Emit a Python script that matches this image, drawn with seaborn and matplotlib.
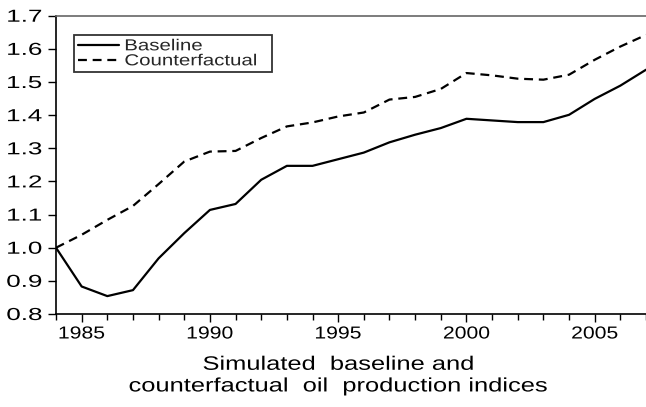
import numpy as np
import pandas as pd
import matplotlib
matplotlib.use("Agg")
import matplotlib.pyplot as plt
import seaborn as sns
from matplotlib.ticker import MultipleLocator
from matplotlib.patheffects import AbstractPathEffect
from matplotlib.transforms import Affine2D

years = list(range(1984, 2008))
baseline = [1.000, 0.883, 0.854, 0.872, 0.968, 1.044, 1.114, 1.132, 1.205, 1.247,
            1.247, 1.267, 1.287, 1.318, 1.341, 1.361, 1.389, 1.384, 1.379, 1.379,
            1.401, 1.449, 1.489, 1.537]
counterfactual = [1.000, 1.039, 1.084, 1.126, 1.192, 1.260, 1.290, 1.292, 1.331, 1.366,
                  1.378, 1.396, 1.408, 1.447, 1.455, 1.479, 1.527, 1.520, 1.510, 1.507,
                  1.522, 1.567, 1.607, 1.642]
series_names = ["Baseline", "Counterfactual"]
yticks = [0.8, 0.9, 1.0, 1.1, 1.2, 1.3, 1.4, 1.5, 1.6, 1.7]
xticks = [1985, 1990, 1995, 2000, 2005]
xlabel = "Simulated  baseline and\ncounterfactual  oil  production indices"


class Stretch(AbstractPathEffect):
    """Widen glyphs horizontally (the source chart's text is horizontally stretched)."""
    def __init__(self, sx, anchor="left"):
        super().__init__()
        self.sx = sx
        self.anchor = anchor

    def draw_path(self, renderer, gc, tpath, affine, rgbFace=None):
        ext = tpath.get_extents()
        if self.anchor == "center":
            cx = (ext.x0 + ext.x1) / 2
        elif self.anchor == "right":
            cx = ext.x1
        else:
            cx = ext.x0
        t = Affine2D().translate(-cx, 0).scale(self.sx, 1).translate(cx, 0)
        renderer.draw_path(gc, tpath, t + affine, rgbFace)


sns.set_theme(style="white")
plt.rcParams['font.family'] = ['Liberation Sans', 'DejaVu Sans']

df = pd.DataFrame({
    "year": years * 2,
    "value": baseline + counterfactual,
    "series": [series_names[0]] * len(years) + [series_names[1]] * len(years),
})

fig = plt.figure(figsize=(6.46, 4.07), dpi=100)
ax = fig.add_axes([0.0867, 0.2285, 0.9133, 0.7329])

sns.lineplot(data=df[df.series == series_names[0]], x="year", y="value", ax=ax,
             color="black", linewidth=1.6, label=series_names[0])
sns.lineplot(data=df[df.series == series_names[1]], x="year", y="value", ax=ax,
             color="black", linewidth=1.6, linestyle=(0, (4, 2.6)), label=series_names[1])

ax.set_xlim(1984, 2007)
ax.set_ylim(0.8, 1.7)
ax.set_yticks(yticks)
ax.set_yticklabels([f"{v:.1f}" for v in yticks])
ax.set_xticks(xticks)
ax.set_xticklabels([str(v) for v in xticks])
ax.xaxis.set_minor_locator(MultipleLocator(1))
ax.tick_params(axis="both", which="major", direction="out", length=6, width=1,
               color="black", labelsize=12.5, labelcolor="black", pad=3,
               bottom=True, left=True)
ax.tick_params(axis="y", which="major", pad=4)
ax.tick_params(axis="x", which="minor", direction="out", length=4, width=1,
               color="black", bottom=True)
for lab in ax.get_yticklabels():
    lab.set_path_effects([Stretch(1.5, "right")])
for lab in ax.get_xticklabels():
    lab.set_path_effects([Stretch(1.22, "center")])

ax.set_ylabel("")
ax.set_xlabel(xlabel, fontsize=14, color="black", labelpad=11, linespacing=1.36)
ax.xaxis.label.set_x(0.48)
ax.xaxis.label.set_path_effects([Stretch(1.31, "center")])

for side in ["left", "bottom"]:
    ax.spines[side].set_color("black")
    ax.spines[side].set_linewidth(1.2)
ax.spines["top"].set_color("#666666")
ax.spines["top"].set_linewidth(1.2)
ax.spines["right"].set_visible(False)

leg = ax.legend(loc="upper left", bbox_to_anchor=(0.031, 0.936, 0.3356, 0.0),
                mode="expand", fontsize=11.5, frameon=True, fancybox=False,
                edgecolor="black", handlelength=2.56, handletextpad=0.37,
                borderpad=0.22, labelspacing=0.0, borderaxespad=0)
leg.get_frame().set_linewidth(1.3)
for t in leg.get_texts():
    t.set_path_effects([Stretch(1.28, "left")])

fig.savefig("out.png", dpi=100)
